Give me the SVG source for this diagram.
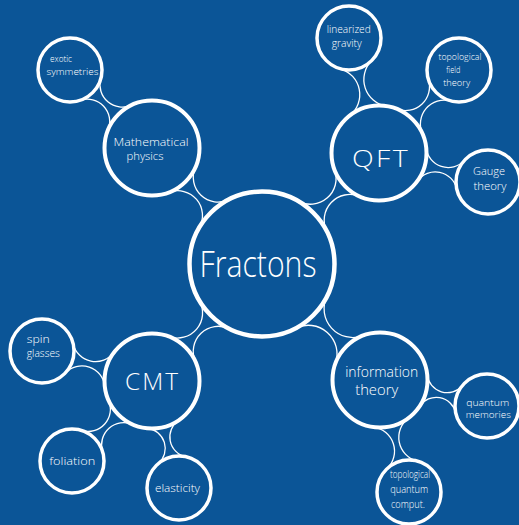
<svg xmlns="http://www.w3.org/2000/svg" width="519" height="525" viewBox="0 0 519 525">
<style>
.bg{fill:#0b5597}
.n{fill:#0b5597;stroke:#fff}
.big{stroke-width:4.5}
.mid{stroke-width:4}
.sm{stroke-width:3.5}
.c{fill:none;stroke:#fff;stroke-width:1.3}
text{fill:#fff;font-family:"Open Sans","DejaVu Sans",sans-serif;font-weight:300;text-anchor:middle}
.t1{font-size:36px}
.t2{font-size:24px;letter-spacing:2px}
.t3{font-size:14px}
.t3s{font-size:11px}
.t4{font-size:11px}
.t4s{font-size:9.5px}
</style>
<rect class="bg" x="0" y="0" width="519" height="525"/>
<g id="connectors">
<path class="c" transform="translate(262,264) rotate(-133.48)" d="M69.49,20.67 A24.71,24.71 0 0 1 116,18.23 M69.49,-20.67 A24.71,24.71 0 0 0 116,-18.23"/>
<path class="c" transform="translate(262,264) rotate(-43.49)" d="M69.32,21.2 A25.72,25.72 0 0 1 117.58,18.63 M69.32,-21.2 A25.72,25.72 0 0 0 117.58,-18.63"/>
<path class="c" transform="translate(262,264) rotate(133.23)" d="M69.4,20.94 A25.23,25.23 0 0 1 116.81,18.44 M69.4,-20.94 A25.23,25.23 0 0 0 116.81,-18.44"/>
<path class="c" transform="translate(262,264) rotate(44.51)" d="M68.84,22.73 A28.75,28.75 0 0 1 122.28,19.78 M68.84,-22.73 A28.75,28.75 0 0 0 122.28,-19.78"/>
<path class="c" transform="translate(152,148) rotate(-136.43)" d="M44.26,17.25 A22.38,22.38 0 0 1 84.9,14.94 M44.26,-17.25 A22.38,22.38 0 0 0 84.9,-14.94"/>
<path class="c" transform="translate(379,153) rotate(-104.62)" d="M43.5,19.08 A26.89,26.89 0 0 1 91.28,16.24 M43.5,-19.08 A26.89,26.89 0 0 0 91.28,-16.24"/>
<path class="c" transform="translate(379,153) rotate(-46.05)" d="M43.98,17.94 A24.01,24.01 0 0 1 87.25,15.43 M43.98,-17.94 A24.01,24.01 0 0 0 87.25,-15.43"/>
<path class="c" transform="translate(379,153) rotate(14.9)" d="M44.31,17.11 A22.06,22.06 0 0 1 84.44,14.83 M44.31,-17.11 A22.06,22.06 0 0 0 84.44,-14.83"/>
<path class="c" transform="translate(152,381) rotate(195.26)" d="M44.15,17.53 A23.02,23.02 0 0 1 85.82,15.13 M44.15,-17.53 A23.02,23.02 0 0 0 85.82,-15.13"/>
<path class="c" transform="translate(152,381) rotate(135)" d="M44.27,17.23 A22.33,22.33 0 0 1 84.83,14.92 M44.27,-17.23 A22.33,22.33 0 0 0 84.83,-14.92"/>
<path class="c" transform="translate(152,381) rotate(75.84)" d="M44.62,16.28 A20.2,20.2 0 0 1 81.69,14.22 M44.62,-16.28 A20.2,20.2 0 0 0 81.69,-14.22"/>
<path class="c" transform="translate(380,380) rotate(13.66)" d="M44.66,16.19 A20.01,20.01 0 0 1 81.41,14.16 M44.66,-16.19 A20.01,20.01 0 0 0 81.41,-14.16"/>
<path class="c" transform="translate(380,380) rotate(75.48)" d="M43.93,18.07 A24.33,24.33 0 0 1 87.71,15.53 M43.93,-18.07 A24.33,24.33 0 0 0 87.71,-15.53"/>
</g>
<g id="fractons"><circle class="n big" cx="262" cy="264" r="72.5"/><text class="t1" x="258" y="277" textLength="117" lengthAdjust="spacingAndGlyphs">Fractons</text></g>
<g id="mathphys"><circle class="n mid" cx="152" cy="148" r="47.5"/><text class="t3s" x="151" y="146" textLength="75" lengthAdjust="spacingAndGlyphs">Mathematical</text><text class="t3s" x="145" y="160" textLength="37" lengthAdjust="spacingAndGlyphs">physics</text></g>
<g id="exotic"><circle class="n sm" cx="70" cy="70" r="32"/><text class="t4s" x="61" y="62" textLength="22" lengthAdjust="spacingAndGlyphs">exotic</text><text class="t4s" x="72.5" y="75" textLength="52" lengthAdjust="spacingAndGlyphs">symmetries</text></g>
<g id="qft"><circle class="n mid" cx="379" cy="153" r="47.5"/><text class="t2" x="381" y="167" textLength="58" lengthAdjust="spacingAndGlyphs">QFT</text></g>
<g id="gravity"><circle class="n sm" cx="349" cy="38" r="32"/><text class="t4" x="348.7" y="33" textLength="44" lengthAdjust="spacingAndGlyphs">linearized</text><text class="t4" x="346.7" y="47" textLength="30" lengthAdjust="spacingAndGlyphs">gravity</text></g>
<g id="tft"><circle class="n sm" cx="459" cy="70" r="32"/><text class="t4s" x="460" y="59.5" textLength="43" lengthAdjust="spacingAndGlyphs">topological</text><text class="t4s" x="453.3" y="73" textLength="14" lengthAdjust="spacingAndGlyphs">field</text><text class="t4s" x="456.7" y="86" textLength="27" lengthAdjust="spacingAndGlyphs">theory</text></g>
<g id="gauge"><circle class="n sm" cx="488" cy="182" r="32"/><text class="t4" x="489" y="175" textLength="32" lengthAdjust="spacingAndGlyphs">Gauge</text><text class="t4" x="490" y="190" textLength="33" lengthAdjust="spacingAndGlyphs">theory</text></g>
<g id="cmt"><circle class="n mid" cx="152" cy="381" r="47.5"/><text class="t2" x="152.5" y="390" textLength="55" lengthAdjust="spacingAndGlyphs">CMT</text></g>
<g id="spin"><circle class="n sm" cx="42" cy="351" r="32"/><text class="t4" x="38.3" y="343" textLength="23" lengthAdjust="spacingAndGlyphs">spin</text><text class="t4" x="43.3" y="357" textLength="33" lengthAdjust="spacingAndGlyphs">glasses</text></g>
<g id="foliation"><circle class="n sm" cx="72" cy="461" r="32"/><text class="t4" x="72.2" y="465" textLength="46" lengthAdjust="spacingAndGlyphs">foliation</text></g>
<g id="elasticity"><circle class="n sm" cx="179" cy="488" r="32"/><text class="t4" x="177.5" y="492" textLength="45" lengthAdjust="spacingAndGlyphs">elasticity</text></g>
<g id="info"><circle class="n mid" cx="380" cy="380" r="47.5"/><text class="t3" x="381.7" y="377" textLength="73" lengthAdjust="spacingAndGlyphs">information</text><text class="t3" x="376.7" y="395" textLength="43" lengthAdjust="spacingAndGlyphs">theory</text></g>
<g id="qmem"><circle class="n sm" cx="487" cy="406" r="32"/><text class="t4s" x="487.7" y="405.5" textLength="43" lengthAdjust="spacingAndGlyphs">quantum</text><text class="t4s" x="488.3" y="418" textLength="45" lengthAdjust="spacingAndGlyphs">memories</text></g>
<g id="tqc"><circle class="n sm" cx="409" cy="492" r="32"/><text class="t4" x="410" y="478" textLength="40" lengthAdjust="spacingAndGlyphs">topological</text><text class="t4" x="409.2" y="493" textLength="38" lengthAdjust="spacingAndGlyphs">quantum</text><text class="t4" x="407.9" y="508" textLength="34" lengthAdjust="spacingAndGlyphs">comput.</text></g>
</svg>
